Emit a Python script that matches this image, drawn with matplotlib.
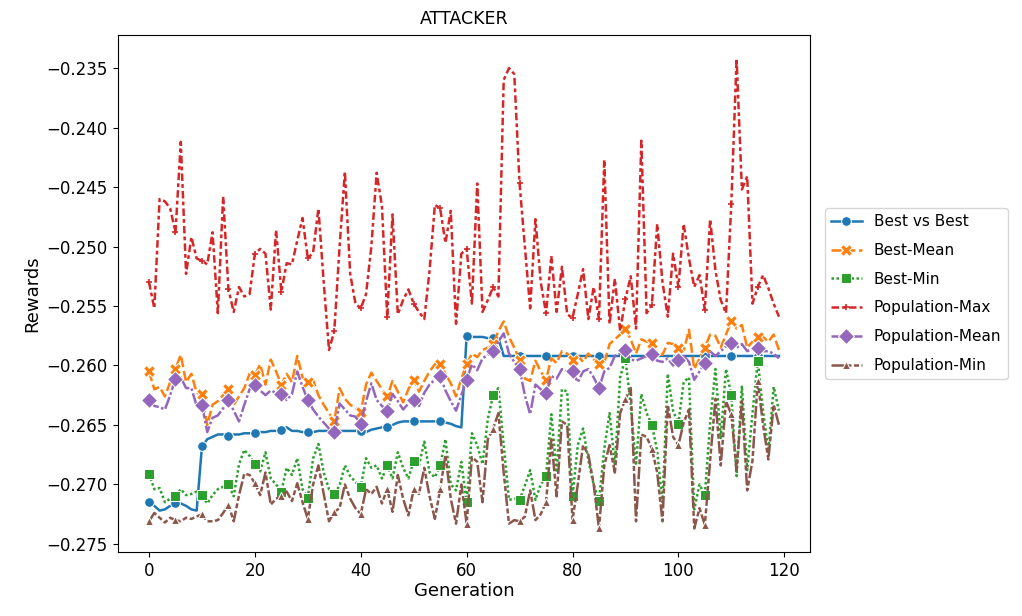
import matplotlib
matplotlib.use("Agg")
import matplotlib.pyplot as plt
import numpy as np

generations = np.arange(120)

best_vs_best = [
    -0.2715, -0.2718, -0.2722, -0.2721, -0.2718, -0.2716, -0.2716, -0.2718, -0.2721, -0.2722,
    -0.2668, -0.2662, -0.2660, -0.2658, -0.2658, -0.2659, -0.2658, -0.2658, -0.2657, -0.2657,
    -0.2657, -0.2656, -0.2656, -0.2655, -0.2655, -0.2654, -0.2652, -0.2655, -0.2655, -0.2656,
    -0.2656, -0.2656, -0.2655, -0.2655, -0.2655, -0.2655, -0.2655, -0.2655, -0.2655, -0.2655,
    -0.2655, -0.2656, -0.2654, -0.2653, -0.2652, -0.2652, -0.2650, -0.2648, -0.2647, -0.2647,
    -0.2647, -0.2647, -0.2647, -0.2647, -0.2647, -0.2647, -0.2648, -0.2649, -0.2651, -0.2652,
    -0.2575, -0.2576, -0.2576, -0.2576, -0.2577, -0.2577, -0.2577, -0.2592, -0.2592, -0.2592,
] + [-0.2592] * 50

best_mean = [
    -0.2605, -0.2620, -0.2618, -0.2626, -0.2614, -0.2603, -0.2591, -0.2614, -0.2607, -0.2623,
    -0.2624, -0.2650, -0.2633, -0.2630, -0.2625, -0.2620, -0.2633, -0.2626, -0.2619, -0.2607,
    -0.2608, -0.2599, -0.2616, -0.2595, -0.2605, -0.2616, -0.2607, -0.2614, -0.2592, -0.2610,
    -0.2614, -0.2612, -0.2625, -0.2633, -0.2640, -0.2647, -0.2619, -0.2628, -0.2633, -0.2636,
    -0.2639, -0.2616, -0.2606, -0.2613, -0.2620, -0.2626, -0.2613, -0.2622, -0.2631, -0.2620,
    -0.2612, -0.2622, -0.2613, -0.2605, -0.2599, -0.2599, -0.2607, -0.2615, -0.2626, -0.2611,
    -0.2599, -0.2590, -0.2593, -0.2587, -0.2585, -0.2582, -0.2571, -0.2563, -0.2576, -0.2585,
    -0.2595, -0.2611, -0.2613, -0.2596, -0.2605, -0.2612, -0.2594, -0.2598, -0.2588, -0.2590,
    -0.2595, -0.2592, -0.2597, -0.2590, -0.2595, -0.2599, -0.2598, -0.2582, -0.2578, -0.2574,
    -0.2569, -0.2578, -0.2590, -0.2578, -0.2580, -0.2581, -0.2590, -0.2591, -0.2581, -0.2582,
    -0.2585, -0.2588, -0.2570, -0.2603, -0.2594, -0.2585, -0.2574, -0.2575, -0.2585, -0.2574,
    -0.2563, -0.2569, -0.2566, -0.2585, -0.2580, -0.2576, -0.2576, -0.2580, -0.2574, -0.2587,
]

best_min = [
    -0.2691, -0.2704, -0.2703, -0.2715, -0.2712, -0.2710, -0.2704, -0.2709, -0.2708, -0.2706,
    -0.2709, -0.2716, -0.2709, -0.2704, -0.2702, -0.2700, -0.2710, -0.2683, -0.2671, -0.2676,
    -0.2683, -0.2689, -0.2673, -0.2695, -0.2700, -0.2706, -0.2686, -0.2692, -0.2678, -0.2704,
    -0.2711, -0.2678, -0.2666, -0.2690, -0.2704, -0.2708, -0.2701, -0.2684, -0.2693, -0.2698,
    -0.2702, -0.2678, -0.2686, -0.2684, -0.2695, -0.2684, -0.2695, -0.2673, -0.2686, -0.2695,
    -0.2680, -0.2684, -0.2664, -0.2690, -0.2694, -0.2684, -0.2662, -0.2700, -0.2705, -0.2681,
    -0.2715, -0.2657, -0.2667, -0.2683, -0.2645, -0.2625, -0.2619, -0.2667, -0.2713, -0.2712,
    -0.2713, -0.2701, -0.2688, -0.2713, -0.2700, -0.2693, -0.2641, -0.2690, -0.2620, -0.2622,
    -0.2710, -0.2667, -0.2653, -0.2680, -0.2700, -0.2714, -0.2670, -0.2640, -0.2684, -0.2610,
    -0.2594, -0.2634, -0.2684, -0.2624, -0.2640, -0.2650, -0.2672, -0.2715, -0.2607, -0.2638,
    -0.2649, -0.2614, -0.2610, -0.2721, -0.2700, -0.2709, -0.2648, -0.2603, -0.2661, -0.2603,
    -0.2625, -0.2693, -0.2617, -0.2688, -0.2640, -0.2596, -0.2638, -0.2672, -0.2618, -0.2638,
]

pop_max = [
    -0.2530, -0.2552, -0.2460, -0.2462, -0.2468, -0.2488, -0.2412, -0.2523, -0.2492, -0.2510,
    -0.2512, -0.2515, -0.2488, -0.2556, -0.2458, -0.2536, -0.2555, -0.2534, -0.2542, -0.2540,
    -0.2506, -0.2502, -0.2506, -0.2553, -0.2486, -0.2538, -0.2514, -0.2515, -0.2495, -0.2476,
    -0.2510, -0.2505, -0.2468, -0.2530, -0.2587, -0.2571, -0.2500, -0.2437, -0.2523, -0.2548,
    -0.2552, -0.2540, -0.2500, -0.2438, -0.2466, -0.2559, -0.2473, -0.2557, -0.2545, -0.2536,
    -0.2548, -0.2555, -0.2561, -0.2520, -0.2465, -0.2468, -0.2497, -0.2470, -0.2565, -0.2506,
    -0.2502, -0.2548, -0.2447, -0.2555, -0.2545, -0.2534, -0.2542, -0.2360, -0.2350, -0.2355,
    -0.2447, -0.2500, -0.2552, -0.2477, -0.2530, -0.2556, -0.2508, -0.2555, -0.2517, -0.2557,
    -0.2560, -0.2540, -0.2519, -0.2561, -0.2534, -0.2561, -0.2427, -0.2565, -0.2527, -0.2571,
    -0.2544, -0.2525, -0.2569, -0.2411, -0.2556, -0.2549, -0.2481, -0.2530, -0.2559, -0.2506,
    -0.2534, -0.2481, -0.2510, -0.2534, -0.2524, -0.2553, -0.2477, -0.2520, -0.2545, -0.2556,
    -0.2464, -0.2342, -0.2452, -0.2441, -0.2548, -0.2534, -0.2524, -0.2535, -0.2548, -0.2559,
]

pop_mean = [
    -0.2629, -0.2634, -0.2635, -0.2637, -0.2625, -0.2611, -0.2610, -0.2619, -0.2619, -0.2634,
    -0.2633, -0.2656, -0.2644, -0.2642, -0.2636, -0.2629, -0.2638, -0.2647, -0.2633, -0.2620,
    -0.2616, -0.2621, -0.2625, -0.2621, -0.2623, -0.2624, -0.2629, -0.2624, -0.2605, -0.2618,
    -0.2629, -0.2637, -0.2643, -0.2648, -0.2653, -0.2656, -0.2632, -0.2637, -0.2642, -0.2643,
    -0.2649, -0.2630, -0.2615, -0.2629, -0.2634, -0.2638, -0.2624, -0.2630, -0.2637, -0.2632,
    -0.2629, -0.2634, -0.2623, -0.2616, -0.2612, -0.2609, -0.2621, -0.2630, -0.2638, -0.2625,
    -0.2612, -0.2599, -0.2604, -0.2594, -0.2591, -0.2588, -0.2580, -0.2573, -0.2590, -0.2597,
    -0.2603, -0.2625, -0.2641, -0.2616, -0.2620, -0.2623, -0.2609, -0.2611, -0.2603, -0.2605,
    -0.2605, -0.2614, -0.2605, -0.2603, -0.2610, -0.2619, -0.2605, -0.2602, -0.2592, -0.2590,
    -0.2587, -0.2595, -0.2596, -0.2594, -0.2592, -0.2590, -0.2596, -0.2597, -0.2594, -0.2600,
    -0.2595, -0.2592, -0.2597, -0.2612, -0.2605, -0.2598, -0.2588, -0.2592, -0.2588, -0.2584,
    -0.2581, -0.2585, -0.2582, -0.2588, -0.2586, -0.2585, -0.2588, -0.2588, -0.2590, -0.2594,
]

pop_min = [
    -0.2731, -0.2724, -0.2728, -0.2732, -0.2728, -0.2730, -0.2731, -0.2728, -0.2729, -0.2727,
    -0.2725, -0.2731, -0.2731, -0.2730, -0.2724, -0.2717, -0.2731, -0.2709, -0.2691, -0.2692,
    -0.2699, -0.2709, -0.2690, -0.2717, -0.2712, -0.2710, -0.2706, -0.2714, -0.2699, -0.2715,
    -0.2729, -0.2700, -0.2684, -0.2708, -0.2731, -0.2723, -0.2720, -0.2700, -0.2712, -0.2720,
    -0.2725, -0.2704, -0.2708, -0.2702, -0.2716, -0.2704, -0.2723, -0.2692, -0.2712, -0.2726,
    -0.2704, -0.2708, -0.2686, -0.2710, -0.2729, -0.2704, -0.2675, -0.2712, -0.2733, -0.2700,
    -0.2733, -0.2677, -0.2681, -0.2715, -0.2662, -0.2653, -0.2640, -0.2690, -0.2733, -0.2730,
    -0.2731, -0.2727, -0.2705, -0.2730, -0.2725, -0.2715, -0.2662, -0.2710, -0.2647, -0.2650,
    -0.2730, -0.2700, -0.2667, -0.2675, -0.2700, -0.2737, -0.2684, -0.2667, -0.2690, -0.2640,
    -0.2628, -0.2619, -0.2731, -0.2658, -0.2660, -0.2670, -0.2690, -0.2731, -0.2633, -0.2660,
    -0.2667, -0.2648, -0.2637, -0.2737, -0.2720, -0.2734, -0.2680, -0.2628, -0.2684, -0.2630,
    -0.2641, -0.2688, -0.2630, -0.2705, -0.2680, -0.2613, -0.2650, -0.2679, -0.2633, -0.2650,
]

labels = ["Best vs Best", "Best-Mean", "Best-Min",
          "Population-Max", "Population-Mean", "Population-Min"]
series = [best_vs_best, best_mean, best_min, pop_max, pop_mean, pop_min]
colors = ["#1f77b4", "#ff7f0e", "#2ca02c", "#d62728", "#9467bd", "#8c564b"]
markers = ["o", "X", "s", "+", "D", "^"]
msizes = [7, 8, 7, 5, 8, 6]
dashes = [(None, None), (4, 1.5), (1, 1), (3, 1.25, 1.5, 1.25), (5, 1, 1, 1), (5, 1, 2, 1, 2, 1)]

fig = plt.figure(figsize=(10.22, 6.16), dpi=100)
ax = fig.add_axes([0.115, 0.104, 0.678, 0.839])

for y, lab, c, m, ms, d in zip(series, labels, colors, markers, msizes, dashes):
    if m == "+":
        edge, mew = c, 1.2
    else:
        edge, mew = "white", 0.75
    line, = ax.plot(generations, y, color=c, marker=m, markersize=ms, markevery=5,
                    markeredgecolor=edge, markeredgewidth=mew, linewidth=1.8, label=lab)
    if d[0] is not None:
        line.set_dashes(d)

ax.set_yticks(np.arange(-0.275, -0.2349, 0.005))
ax.set_xticks(np.arange(0, 121, 20))
ax.tick_params(labelsize=12)
ax.set_title("ATTACKER", fontsize=12.5, pad=8)
ax.set_xlabel("Generation", fontsize=13, labelpad=2)
ax.set_ylabel("Rewards", fontsize=13)
ax.legend(loc="center left", bbox_to_anchor=(1.01, 0.5), fontsize=11,
          handlelength=2.0, labelspacing=0.9)

fig.savefig("out.png", dpi=100)
